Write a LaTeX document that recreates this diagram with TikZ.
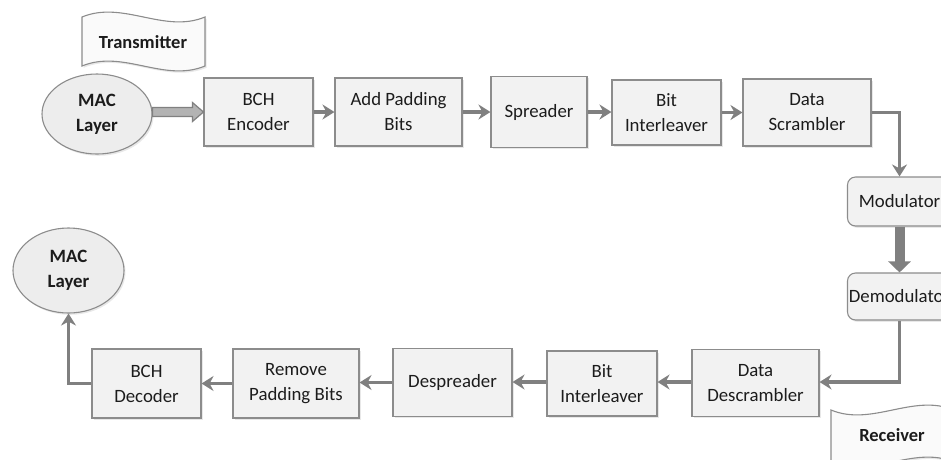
\documentclass[tikz,border=0pt]{standalone}
\usepackage{fontspec}
\setmainfont{Carlito}
\usetikzlibrary{arrows.meta,calc,shadows,shapes.geometric}
\definecolor{boxfill}{HTML}{F2F2F2}
\definecolor{boxline}{HTML}{8C8C8C}
\definecolor{arr}{HTML}{808080}
\definecolor{txt}{HTML}{1C1C1C}
\definecolor{ellfill}{HTML}{EDEDED}
\definecolor{hollowfill}{HTML}{B3B3B3}
\definecolor{bannerfill}{HTML}{FAFAFA}
\tikzset{
  shad/.style={drop shadow={opacity=0.18, shadow xshift=1.5pt, shadow yshift=-1.8pt}},
  blk/.style={draw=boxline, line width=1.1pt, fill=boxfill, align=center, text=txt,
    font=\fontsize{18.8}{25}\selectfont, inner sep=0pt, shad},
  rblk/.style={blk, rounded corners=8pt},
  macnode/.style={ellipse, draw=boxline, line width=1.1pt, fill=ellfill, align=center, text=txt,
    font=\fontsize{18.8}{25}\selectfont\bfseries, inner sep=0pt, shad},
  flow/.style={draw=arr, line width=3.5pt, -{Stealth[length=12pt,width=15pt,inset=4pt]}},
  bigflow/.style={draw=arr, line width=10pt, -{Triangle[length=11pt,width=22pt]}},
  hollow/.style={draw=arr, line width=1.2pt, fill=hollowfill, line join=miter},
  banner/.style={draw=boxline, line width=1.1pt, fill=bannerfill, shad},
  bannertext/.style={text=txt, font=\fontsize{18.5}{22}\selectfont\bfseries, inner sep=0pt}
}
\begin{document}
\begin{tikzpicture}[x=1pt,y=-1pt]
\useasboundingbox (0,0) rectangle (941,459);
\clip (0,0) rectangle (941,459);
\fill[white] (0,0) rectangle (941,459);

% banners
\draw[banner] (82,17) .. controls (123,0) and (164,34) .. (205,17) -- (205,66)
  .. controls (164,83) and (123,49) .. (82,66) -- cycle;
\node[bannertext] (tx) at (143,42) {Transmitter};
\draw[banner] (831,410) .. controls (872,427) and (913,393) .. (954,410) -- (954,462)
  .. controls (913,445) and (872,479) .. (831,462) -- cycle;
\node[bannertext] (rx) at (892,435) {Receiver};

% top row
\node[macnode, minimum width=110pt, minimum height=80pt] (mac1) at (97,114) {MAC\\Layer};
\node[blk, minimum width=109pt, minimum height=68pt] (bche) at (258.5,112) {BCH\\Encoder};
\node[blk, minimum width=127pt, minimum height=68pt] (pad) at (398.5,112) {Add Padding\\Bits};
\node[blk, minimum width=96pt, minimum height=71pt] (spr) at (539,112) {Spreader};
\node[blk, minimum width=109pt, minimum height=65pt] (bil1) at (666.5,112.5) {Bit\\Interleaver};
\node[blk, minimum width=128pt, minimum height=67pt] (scr) at (807,112.5) {Data\\Scrambler};

% right column
\node[rblk, minimum width=104pt, minimum height=49pt] (mod) at (899.5,201.5) {Modulator};
\node[rblk, minimum width=104pt, minimum height=47pt] (demod) at (899.5,296.5) {Demodulator};

% bottom row
\node[blk, minimum width=127pt, minimum height=67pt] (desc) at (755.5,383) {Data\\Descrambler};
\node[blk, minimum width=110pt, minimum height=65pt] (bil2) at (602,383.5) {Bit\\Interleaver};
\node[blk, minimum width=119pt, minimum height=68pt] (despr) at (452.5,382.5) {Despreader};
\node[blk, minimum width=126pt, minimum height=69pt] (rpad) at (296,383.5) {Remove\\Padding Bits};
\node[blk, minimum width=109pt, minimum height=69pt] (bchd) at (146.5,383.5) {BCH\\Decoder};
\node[macnode, minimum width=111pt, minimum height=85pt] (mac2) at (68.5,270.5) {MAC\\Layer};

% hollow arrow MAC -> BCH Encoder
\path (mac1.east |- bche.west) coordinate (h0) (bche.west) coordinate (h1);
\draw[hollow] ($(h0)+(0,-4.5)$) -- ($(h1)+(-11,-4.5)$) -- ($(h1)+(-11,-9.5)$) -- (h1)
  -- ($(h1)+(-11,9.5)$) -- ($(h1)+(-11,4.5)$) -- ($(h0)+(0,4.5)$) -- cycle;

% connectors
\draw[flow] (bche.east) -- (pad.west);
\draw[flow] (pad.east) -- (pad.east -| spr.west);
\draw[flow] (spr.east) -- (spr.east -| bil1.west);
\draw[flow] (bil1.east) -- (bil1.east -| scr.west);
\draw[flow] (scr.east) -| (mod.north);
\draw[bigflow] (mod.south) -- (demod.north);
\draw[flow] (demod.south) |- ($(desc.east)+(0,-1)$);
\draw[flow] ($(desc.west)+(0,-1)$) -- ($(desc.west -| bil2.east)+(0,-1)$);
\draw[flow] ($(bil2.west)+(0,-1.5)$) -- ($(bil2.west -| despr.east)+(0,-1.5)$);
\draw[flow] (despr.west) -- (despr.west -| rpad.east);
\draw[flow] (rpad.west) -- (rpad.west -| bchd.east);
\draw[flow] (bchd.west) -| (mac2.south);
\end{tikzpicture}
\end{document}
